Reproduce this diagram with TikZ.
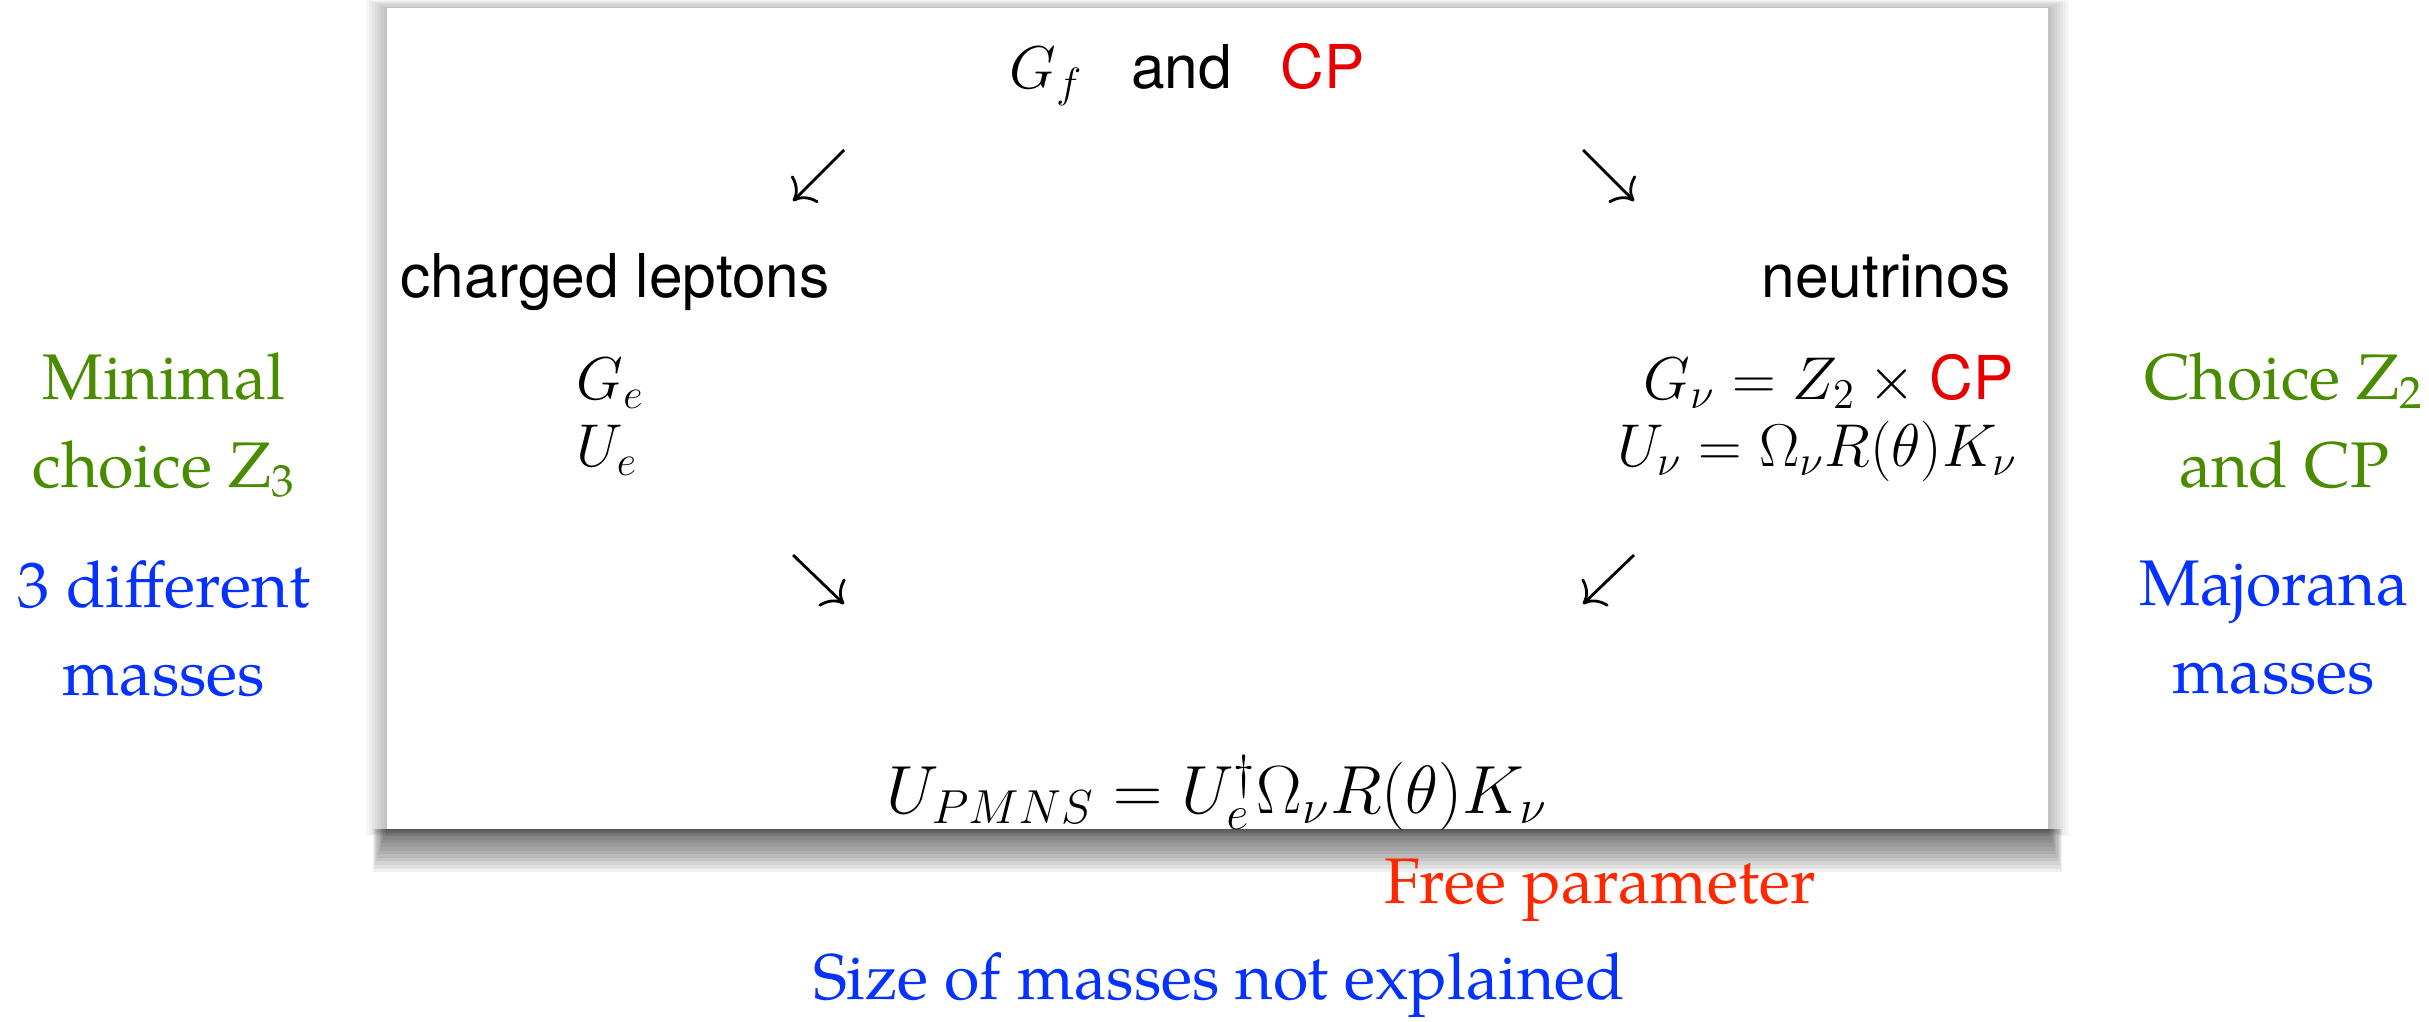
\RequirePackage{fix-cm}
\documentclass[tikz,border=0pt]{standalone}
\usepackage{fontspec}
\usetikzlibrary{arrows.meta}
\newfontfamily\helv{TeX Gyre Heros}
\newfontfamily\pala[Extension=.otf, UprightFont=*-regular, BoldFont=*-bold, ItalicFont=*-italic, BoldItalicFont=*-bolditalic]{texgyrepagella}
\definecolor{lgreen}{RGB}{73,140,0}
\definecolor{lblue}{RGB}{5,50,255}
\definecolor{fred}{RGB}{255,40,0}
\definecolor{cpred}{RGB}{232,0,0}
\begin{document}
\begin{tikzpicture}[
  inner/.style={font=\fontsize{17.2}{20}\selectfont\helv, inner sep=0pt},
  outer/.style={font=\fontsize{18.35}{25}\selectfont\pala, inner sep=0pt, align=center},
  arr/.style={line width=0.8pt, -{To[length=1.8mm,width=3.8mm]}}
]
\useasboundingbox (0,0) rectangle (24.29,-10.21);
\fill[white] (0,0) rectangle (24.29,-10.21);
% soft shadow of the panel: faint at the sides, strong below
\foreach \i in {1,...,7}{
  \fill[black, opacity=0.035] ({3.87-0.03*\i},{-0.08+0.012*\i}) rectangle ({20.48+0.03*\i},{-8.29-0.01*\i});
}
\foreach \i in {1,...,12}{
  \fill[black, opacity=0.06] ({3.87-0.012*\i},-8.29) rectangle ({20.48+0.012*\i},{-8.29-0.036*\i});
}
% panel
\fill[white] (3.87,-0.08) rectangle (20.48,-8.29);

% inner texts
\node[inner, anchor=base] (top) at (11.87,-0.88) {$G_f$\hspace{0.8em}and\hspace{0.8em}\textcolor{cpred}{CP}};
\node[inner, anchor=base west] (cl) at (4.00,-2.97) {charged leptons};
\node[inner, anchor=base east] (nu) at (20.11,-2.97) {neutrinos};
\node[inner, anchor=base west] (ge) at (5.76,-3.99) {$G_e$};
\node[inner, anchor=base east] (gnu) at (20.14,-3.99) {$G_\nu = Z_2 \times \textcolor{cpred}{\mbox{CP}}$};
\node[inner, anchor=base west] (ue) at (5.76,-4.66) {$U_e$};
\node[inner, anchor=base east] (unu) at (20.18,-4.66) {$U_\nu = \Omega_\nu R(\theta) K_\nu$};
\node[inner, font=\fontsize{19.4}{22}\selectfont\helv, anchor=base] (pmns) at (12.17,-8.13) {$U_{PMNS} = U_e^\dagger \Omega_\nu R(\theta) K_\nu$};

% arrows
\coordinate (a1s) at (8.44,-1.50); \coordinate (a1e) at (7.93,-2.01);
\coordinate (a2s) at (15.83,-1.50); \coordinate (a2e) at (16.34,-2.01);
\coordinate (a3s) at (7.93,-5.55); \coordinate (a3e) at (8.44,-6.04);
\coordinate (a4s) at (16.34,-5.55); \coordinate (a4e) at (15.83,-6.04);
\draw[arr] (a1s) -- (a1e);
\draw[arr] (a2s) -- (a2e);
\draw[arr] (a3s) -- (a3e);
\draw[arr] (a4s) -- (a4e);

% outer comments (base anchor = baseline of the last line)
\node[outer, text=lgreen, anchor=base] (minimal) at (1.64,-4.87) {Minimal\\choice Z\textsubscript{3}};
\node[outer, text=lblue, anchor=base] (diff) at (1.64,-6.95) {3 different\\masses};
\node[outer, text=lgreen, anchor=base] (choice) at (22.84,-4.87) {Choice Z\textsubscript{2}\\and CP};
\node[outer, text=lblue, anchor=base] (maj) at (22.74,-6.93) {Majorana\\masses};
\node[outer, text=fred, anchor=base] (free) at (16.00,-9.03) {Free parameter};
\node[outer, text=lblue, anchor=base] (size) at (12.19,-9.99) {Size of masses not explained};
\end{tikzpicture}
\end{document}
